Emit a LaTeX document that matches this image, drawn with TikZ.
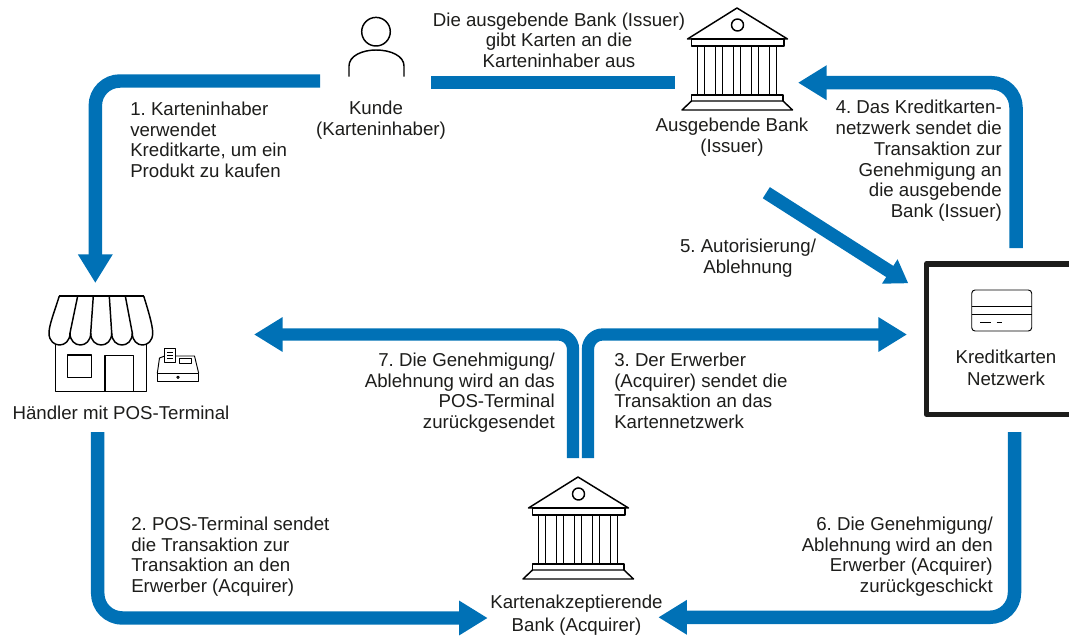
\documentclass[tikz,border=0pt]{standalone}
\usepackage{fontspec}
\setmainfont{Liberation Sans}
\usetikzlibrary{arrows.meta}
\definecolor{cardblue}{HTML}{0071B6}
\definecolor{cardtext}{HTML}{1D1D1B}
\tikzset{
  flow/.style={draw=cardblue,line width=10.1pt,rounded corners=18.5pt,-{Triangle[length=21.5pt,width=24.6pt]}},
  flowthin/.style={flow,line width=9.2pt,rounded corners=11pt},
  flowdiag/.style={draw=cardblue,line width=9.9pt,-{Triangle[length=16.5pt,width=20.5pt]}},
  bar/.style={draw=cardblue,line width=10.1pt},
  label/.style={text=cardtext,font=\fontsize{14}{15.4}\selectfont\frenchspacing,inner sep=0pt},
  icon/.style={draw=black,line width=1.1pt,line join=round},
  iconthin/.style={draw=black,line width=.7pt,line join=round},
  bank/.pic={
    \draw[icon] (0,0) -- (-49.5,31) -- (50.5,31) -- cycle;
    \draw[icon] (0.5,17) circle (6);
    \draw[icon] (-45.5,31) rectangle (47,38);
    \foreach \xcol in {-36,-18,0,18,36}
      \draw[icon] (\xcol-3.3,38) -- (\xcol-3.3,87) (\xcol+3.3,38) -- (\xcol+3.3,87);
    \draw[icon] (-45.5,93) -- (-45.5,87) -- (46,87) -- (46,93);
    \draw[icon] (-45.5,93) -- (46,93) -- (55.5,102) -- (-55,102) -- cycle;
  }
}
\begin{document}
\begin{tikzpicture}[x=.75pt,y=-.75pt]
  \useasboundingbox (0,0) rectangle (1069,635);
  % free ends of the connectors
  \coordinate (a1s) at (320,81);
  \coordinate (a1c) at (95.3,81);
  \coordinate (a1e) at (95.3,283);
  \coordinate (bars) at (431,82.5);
  \coordinate (bare) at (675,82.5);
  \coordinate (a2s) at (97.7,432);
  \coordinate (a2c) at (97.7,618);
  \coordinate (a2e) at (487.7,618);
  \coordinate (a3s) at (588,458);
  \coordinate (a3c) at (588,334.5);
  \coordinate (a3e) at (907,334.5);
  \coordinate (a4s) at (1016,248);
  \coordinate (a4c) at (1016,82.7);
  \coordinate (a4e) at (798,82.7);
  \coordinate (a5s) at (766.3,192.7);
  \coordinate (a5e) at (908.3,283.3);
  \coordinate (a6s) at (1014.5,432);
  \coordinate (a6c) at (1014.5,617.3);
  \coordinate (a6e) at (658.3,617.3);
  \coordinate (a7s) at (573,458);
  \coordinate (a7c) at (573,334.5);
  \coordinate (a7e) at (254,334.5);
  \draw[flow] (a1s) -- (a1c) -- (a1e);
  \draw[bar] (bars) -- (bare);
  \draw[flow] (a2s) -- (a2c) -- (a2e);
  \draw[flowthin] (a3s) -- (a3c) -- (a3e);
  \draw[flow] (a4s) -- (a4c) -- (a4e);
  \draw[flowdiag] (a5s) -- (a5e);
  \draw[flow] (a6s) -- (a6c) -- (a6e);
  \draw[flowthin] (a7s) -- (a7c) -- (a7e);
  % person
  \draw[icon] (376,31.7) circle (14.3);
  \draw[icon] (349,76.7) -- (349,66) .. controls (349,56) and (362,50) .. (376,50) .. controls (391,50) and (404,56) .. (404,66) -- (404,76.7);
  % banks
  \pic at (737,8) {bank};
  \pic at (578,477) {bank};
  % shop
  \draw[icon] (59.3,296) -- (143.7,296);
  \draw[icon] (59.3,296) .. controls (55,310) and (49,325) .. (49,333);
  \draw[icon] (143.7,296) .. controls (148,310) and (152.7,325) .. (152.7,333);
  \foreach \xtop/\xbot in {77.7/70,93.3/90.7,109.3/111.7,125.3/132.3}
    \draw[icon] (\xtop,296) -- (\xbot,333);
  \foreach \xa/\xb in {49/70,70/90.7,90.7/111.7,111.7/132.3,132.3/152.7}
    \draw[icon] (\xa,333) .. controls (\xa,349) and (\xb,349) .. (\xb,333);
  \draw[icon] (55.7,344) -- (55.7,391.7) -- (146.7,391.7) -- (146.7,344);
  \draw[icon] (67.7,355) rectangle (91.3,377.7);
  \draw[icon] (105,390.7) -- (105,355.7) -- (133.3,355.7) -- (133.3,390.7);
  % till
  \draw[iconthin] (157.3,373.3) rectangle (198.7,381);
  \draw[iconthin] (157.3,373.3) -- (159.5,358) -- (164.7,356) (175.3,356) -- (194.5,356) -- (198.7,373.3);
  \draw[iconthin] (164.7,348.3) rectangle (175.3,362.3);
  \draw[iconthin] (167,352) -- (173,352) (167,355) -- (173,355) (167,358) -- (173,358);
  \draw[iconthin] (179.3,358.3) rectangle (191.7,363.3);
  \draw[iconthin] (178,377.3) circle (1.2);
  % network box and card
  \draw[draw=cardtext,line width=4pt,line join=round] (1069,264) -- (926.2,264) -- (926.2,414.3) -- (1069,414.3);
  \draw[iconthin,rounded corners=2.5pt] (971.7,290) rectangle (1031.7,331);
  \draw[iconthin] (971.7,306.7) -- (1031.7,306.7) (971.7,314.7) -- (1031.7,314.7);
  \draw[iconthin] (980,322.3) -- (991,322.3) (996.7,322.3) -- (1001.7,322.3);
  % texts
  \node[label,anchor=north west,align=left] (step1) at (130,102) {1. Karteninhaber\\verwendet\\Kreditkarte, um ein\\Produkt zu kaufen};
  \node[label,align=center] (kunde) at (381,120) {Kunde\hspace*{7.5pt}\\(Karteninhaber)};
  \node[label,align=center] (issue) at (559,40) {Die ausgebende Bank (Issuer)\\gibt Karten an die\\Karteninhaber aus};
  \node[label,align=center] (issuer) at (732,137) {Ausgebende Bank\\(Issuer)};
  \node[label,anchor=north east,align=right,font=\fontsize{14}{15.6}\selectfont\frenchspacing] (step4) at (1002,100) {4. Das Kreditkarten-\\netzwerk sendet die\\Transaktion zur\\Genehmigung an\\die ausgebende\\Bank (Issuer)};
  \node[label,align=center] (step5) at (748,258) {5. Autorisierung/\\Ablehnung};
  \node[label,anchor=north east,align=right,font=\fontsize{14}{15.6}\selectfont\frenchspacing] (step7) at (555,352.5) {7. Die Genehmigung/\\Ablehnung wird an das\\POS-Terminal\\zurückgesendet};
  \node[label,anchor=north west,align=left,font=\fontsize{14}{15.6}\selectfont\frenchspacing] (step3) at (614,352.5) {3. Der Erwerber\\(Acquirer) sendet die\\Transaktion an das\\Kartennetzwerk};
  \node[label] (shop) at (121,413) {Händler mit POS-Terminal};
  \node[label,align=center,font=\fontsize{14}{16.5}\selectfont] (network) at (1006,368) {Kreditkarten\\Netzwerk};
  \node[label,anchor=north west,align=left] (step2) at (131,517) {2. POS-Terminal sendet\\die Transaktion zur\\Transaktion an den\\Erwerber (Acquirer)};
  \node[label,anchor=north east,align=right] (step6) at (993,517) {6. Die Genehmigung/\\Ablehnung wird an den\\Erwerber (Acquirer)\\zurückgeschickt};
  \node[label,align=center,font=\fontsize{14}{17.5}\selectfont] (acquirer) at (576.5,615) {Kartenakzeptierende\\Bank (Acquirer)};
\end{tikzpicture}
\end{document}
